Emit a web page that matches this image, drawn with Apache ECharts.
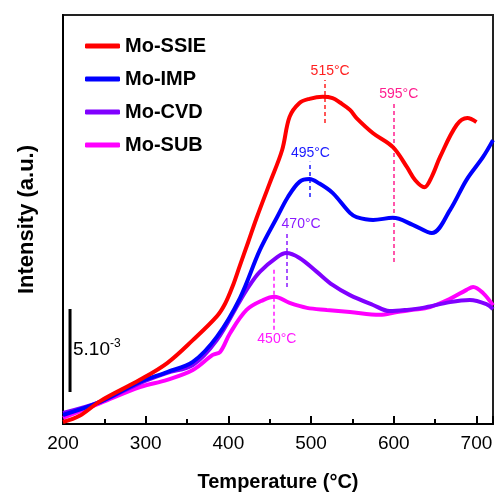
<!DOCTYPE html>
<html>
<head>
<meta charset="utf-8">
<script src="https://cdn.jsdelivr.net/npm/echarts@6/dist/echarts.min.js"></script>
<style>html,body{margin:0;padding:0;background:#fff;}</style>
</head>
<body>
<div id="chart" style="width:496px;height:497px;"></div>
<script>
// TPR profiles: [temperature °C, intensity a.u.]
var seriesNames = ['Mo-SSIE', 'Mo-IMP', 'Mo-CVD', 'Mo-SUB'];
var seriesColors = ['#ff0000', '#0000ff', '#8000ff', '#ff00ff'];

var ssie = [[200,0.5],[220,2.0],[245,5.6],[293,10.8],[326,14.9],[357,20.5],[386,26.3],[396,29.4],[405,33.6],
  [414,38.8],[424,44.5],[434,50.3],[450,58.9],[465,67.0],[474,75.1],[486,78.5],[498,79.5],[514,80.0],[526,79.7],[535,78.6],
  [547,76.8],[555,74.8],[575,71.1],[599,67.7],[616,62.8],[626,59.6],[637,57.9],[646,60.5],[656,65.3],[676,73.1],
  [689,74.8],[700,73.8]];
var imp = [[200,2.2],[245,5.4],[293,10.3],[326,12.7],[357,15.2],[386,21.3],[414,30.8],[438,42.5],[459,50.6],
  [472,55.5],[486,59.2],[498,59.9],[510,58.8],[526,56.5],[547,51.6],[555,50.6],[575,49.9],[599,50.4],[623,48.7],
  [646,46.7],[668,52.3],[688,59.7],[708,65.3],[720,69.4]];
var cvd = [[200,2.7],[245,5.4],[293,10.0],[326,12.5],[357,14.4],[386,20.5],[414,30.1],[426,34.0],[438,37.2],
  [459,40.8],[470,41.8],[486,40.6],[507,37.2],[526,34.0],[547,31.5],[575,29.1],[595,27.6],[616,27.9],[635,28.4],
  [668,29.8],[692,30.3],[712,29.3],[720,28.1]];
var sub = [[200,1.5],[245,5.1],[293,9.0],[326,10.8],[357,13.2],[381,16.9],[390,17.6],[402,22.2],[422,27.9],
  [442,30.3],[456,31.1],[474,29.6],[495,28.4],[519,27.9],[547,27.4],[583,26.7],[604,27.4],[623,27.9],[644,28.6],
  [668,30.6],[688,32.8],[696,33.5],[708,32.0],[720,29.0]];

// peak markers: [series index, label, x, y from, y to, colour, label shift px]
var peaks = [
  [0, '515°C', 517, 73.6, 84.1, '#ff2020', 5],
  [0, '595°C', 600, 39.6, 78.5, '#ff1f8f', 5],
  [1, '495°C', 498, 55.5, 64.1, '#1a1aff', 1],
  [2, '470°C', 471, 33.5, 46.7, '#8a1aff', 14],
  [3, '450°C', 455, 37.7, 23.0, '#ff1aff', 3]
];

// scale bar for 5.10^-3
var scaleBar = [[208.5, 7.8], [208.5, 28.1]];

var xTicks = [200, 300, 400, 500, 600, 700];

var FONT = "'Liberation Sans Narrow', 'Arial Narrow', 'Liberation Sans', Arial, sans-serif";

var allData = [ssie, imp, cvd, sub];
var series = [];
for (var i = 0; i < allData.length; i++) {
  var marks = [];
  for (var k = 0; k < peaks.length; k++) {
    var p = peaks[k];
    if (p[0] !== i) continue;
    marks.push([
      {coord: [p[2], p[3]]},
      {coord: [p[2], p[4]], lineStyle: {color: p[5]},
        label: {show: true, position: 'end', distance: 2, formatter: p[1], color: p[5],
          offset: [p[6], 0], fontFamily: FONT, fontSize: 14}}
    ]);
  }
  series.push({
    name: seriesNames[i],
    type: 'line',
    data: allData[i],
    smooth: 0.35,
    showSymbol: false,
    z: 10 - i,
    lineStyle: {color: seriesColors[i], width: 4},
    itemStyle: {color: seriesColors[i]},
    markLine: {
      silent: true,
      symbol: ['none', 'none'],
      lineStyle: {type: [4, 3], width: 1.5},
      data: marks
    }
  });
}
series.push({
  name: 'scale',
  type: 'line',
  data: scaleBar,
  showSymbol: false,
  lineStyle: {color: '#000', width: 3},
  z: 20
});

var chart = echarts.init(document.getElementById('chart'));
chart.setOption({
  animation: false,
  grid: {left: 63, top: 15, right: 2, bottom: 73, show: true, borderColor: '#222', borderWidth: 2},
  legend: {
    data: seriesNames,
    orient: 'vertical',
    left: 80,
    top: 31,
    itemGap: 13,
    itemWidth: 35,
    itemHeight: 5,
    icon: 'roundRect',
    textStyle: {fontFamily: FONT, fontWeight: 'bold', fontSize: 20, color: '#000'}
  },
  xAxis: {
    type: 'value',
    min: 200,
    max: 720,
    interval: 100,
    name: 'Temperature (°C)',
    nameLocation: 'middle',
    nameGap: 48,
    nameTextStyle: {fontFamily: FONT, fontWeight: 'bold', fontSize: 20, color: '#000'},
    axisLine: {lineStyle: {color: '#000', width: 2}},
    axisTick: {inside: true, length: 8, lineStyle: {color: '#000', width: 2}},
    minorTick: {show: true, splitNumber: 2, length: 5, lineStyle: {color: '#000', width: 2}},
    splitLine: {show: false},
    axisLabel: {
      margin: 10, fontFamily: FONT, fontSize: 19, color: '#000',
      formatter: function (v) { return xTicks.indexOf(v) >= 0 ? String(v) : ''; }
    }
  },
  yAxis: {
    type: 'value',
    min: 0,
    max: 100,
    name: 'Intensity (a.u.)',
    nameLocation: 'middle',
    nameGap: 25,
    nameTextStyle: {fontFamily: FONT, fontWeight: 'bold', fontSize: 22, color: '#000'},
    axisLine: {show: true, lineStyle: {color: '#000', width: 2}},
    axisTick: {show: false},
    axisLabel: {show: false},
    splitLine: {show: false}
  },
  graphic: [{
    type: 'text',
    left: 73,
    top: 338,
    style: {
      text: '{a|5.10}{b|-3}',
      rich: {
        a: {fontFamily: FONT, fontSize: 19, color: '#000', lineHeight: 24},
        b: {fontFamily: FONT, fontSize: 12, color: '#000', verticalAlign: 'top', lineHeight: 24}
      }
    }
  }],
  series: series
});
</script>
</body>
</html>
